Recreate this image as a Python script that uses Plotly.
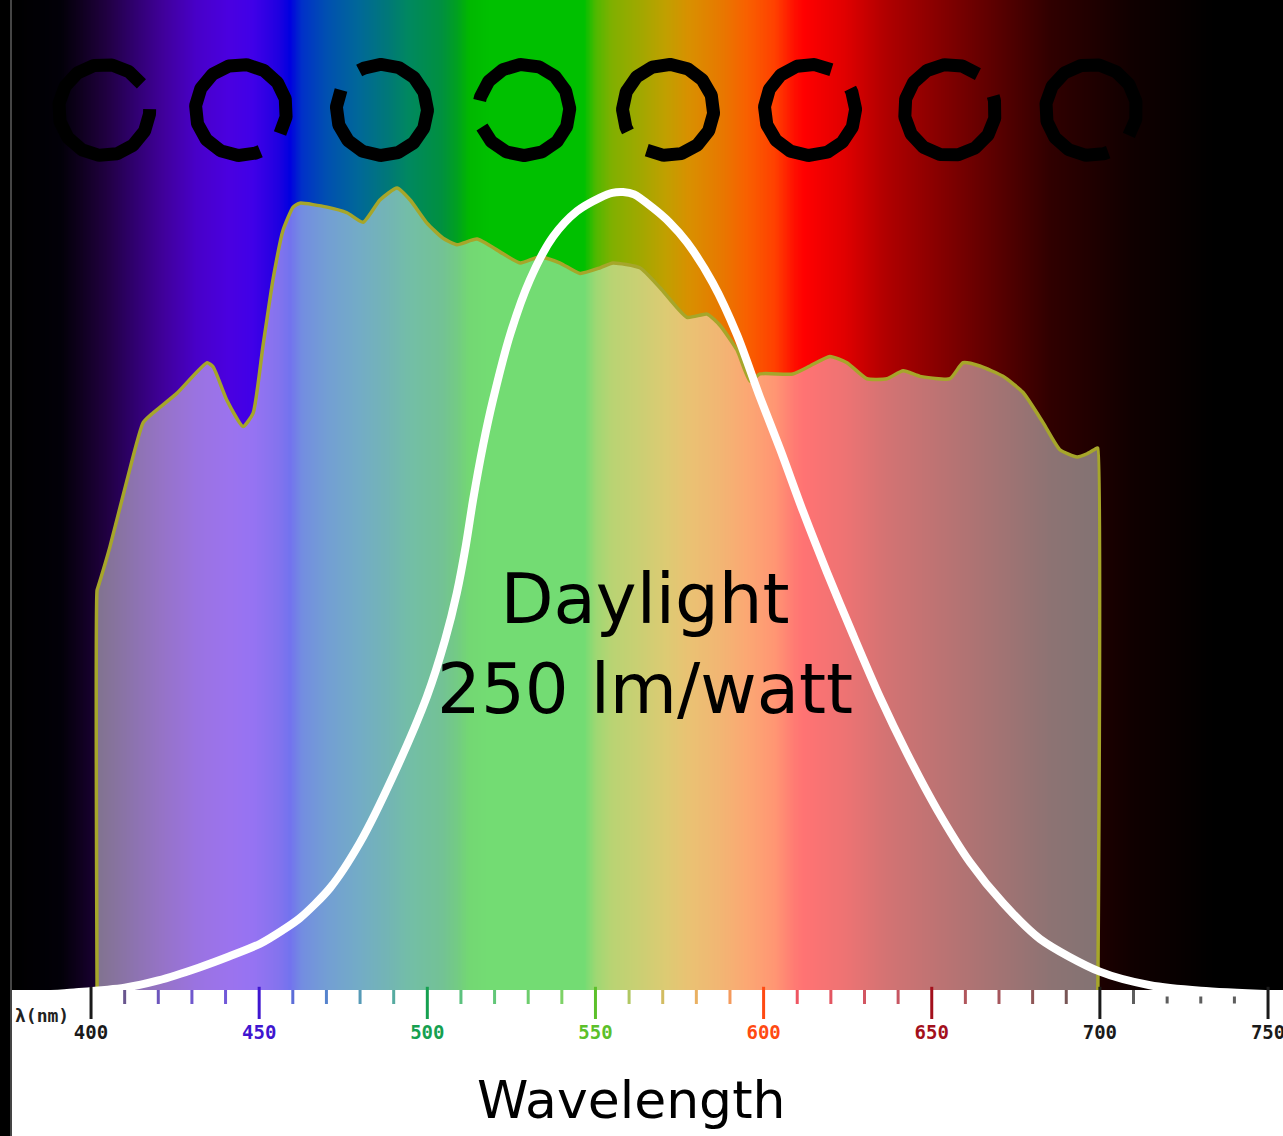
import numpy as np
import plotly.graph_objects as go

# ---------------- data ----------------
# background spectrum colour stops (wavelength nm -> colour)
spectrum_wl = [376.5, 391.1, 397.3, 404.5, 413.1, 421.4, 431.2, 441.0, 448.2, 455.6,
               459.2, 462.7, 470.2, 479.7, 488.3, 494.3, 504.1, 508.8, 512.4, 518.6,
               546.6, 550.2, 554.9, 563.2, 570.7, 577.8, 587.6, 595.1, 603.4, 609.0,
               612.0, 624.2, 636.4, 648.6, 660.8, 673.0, 685.2, 697.4, 709.5, 721.7,
               733.9, 754.45]
spectrum_col = ["#000000", "#020008", "#100020", "#200040", "#300070", "#40009a", "#4800c8",
                "#4a00e0", "#4000e8", "#2000e0", "#0000e0", "#0030c8", "#0050b0", "#006898",
                "#007878", "#008860", "#009040", "#00a020", "#00b800", "#00c000", "#00c000",
                "#50b800", "#80b000", "#a0a800", "#c0a000", "#d89000", "#e87800", "#f86000",
                "#ff4000", "#ff1000", "#ff0000", "#e00000", "#b00000", "#900000", "#700000",
                "#500000", "#300000", "#200000", "#100000", "#080000", "#000000", "#000000"]

# daylight spectrum (relative), filled area
daylight_wl = [401.8, 401.8, 402.1, 405.6, 410.7, 415.5, 418.4, 425.6, 434.5, 436.3, 440.4,
               445.2, 448.2, 451.1, 454.1, 457.1, 460.1, 462.1, 470.2, 476.1, 480.9, 485.9,
               491.0, 494.9, 499.9, 504.7, 508.8, 514.8, 521.6, 527.6, 533.5, 539.5, 545.4,
               551.4, 555.2, 563.2, 569.2, 577.2, 583.2, 587.0, 592.1, 596.0, 598.9, 608.7,
               613.8, 619.7, 624.8, 630.7, 636.7, 641.5, 646.5, 655.4, 659.3, 664.3, 671.2,
               677.1, 683.1, 688.1, 693.2, 696.2, 699.1, 699.4, 699.4]
daylight_val = [0.0, 0.501, 0.505, 0.555, 0.639, 0.711, 0.723, 0.748, 0.786, 0.781, 0.739,
                0.706, 0.723, 0.806, 0.890, 0.952, 0.981, 0.986, 0.981, 0.974, 0.962, 0.990,
                1.005, 0.990, 0.961, 0.942, 0.934, 0.941, 0.925, 0.911, 0.919, 0.911, 0.898,
                0.905, 0.911, 0.905, 0.880, 0.843, 0.847, 0.833, 0.802, 0.763, 0.772, 0.772,
                0.782, 0.794, 0.786, 0.766, 0.766, 0.776, 0.769, 0.766, 0.786, 0.782, 0.769,
                0.749, 0.711, 0.677, 0.668, 0.672, 0.679, 0.679, 0.0]

# eye sensitivity (luminosity) curve, relative
lum_wl = [376.5, 395, 410, 420, 432, 441, 450.3, 457, 462.1, 471.1, 480.0, 489.8, 499.9,
          505.3, 508.8, 511.5, 513.6, 516.6, 519.5, 524.6, 530.5, 537.4, 544.5, 551.4,
          555.0, 558.2, 561.5, 567.1, 572.0, 577.2, 584.9, 592.1, 598.9, 604.9, 611.7,
          618.9, 626.6, 634.6, 642.6, 651.6, 661.4, 671.2, 682.2, 700.0, 714.9, 730, 754.45]
lum_val = [-0.008, -0.003, 0.003, 0.012, 0.028, 0.042, 0.058, 0.075, 0.090, 0.128, 0.185,
           0.268, 0.368, 0.439, 0.498, 0.558, 0.614, 0.683, 0.739, 0.821, 0.890, 0.944,
           0.976, 0.993, 0.999, 1.0, 0.997, 0.980, 0.962, 0.937, 0.886, 0.821, 0.743,
           0.678, 0.600, 0.523, 0.445, 0.367, 0.297, 0.226, 0.160, 0.109, 0.064, 0.023,
           0.006, -0.001, -0.006]

# Landolt rings across the top: centre wavelength and gap direction (deg, CCW from east)
ring_wl = [403.9, 444.6, 486.5, 528.8, 571.6, 613.8, 655.4, 697.4]
ring_gap_deg = [18, -48, 137, 185, 225, 45, 35, -51]

# axis ticks
tick_major = [400, 450, 500, 550, 600, 650, 700, 750]
tick_major_col = ["#1a1a1a", "#3f16d0", "#16a050", "#5cc02a", "#ff4a12", "#a3101c",
                  "#1a1a1a", "#1a1a1a"]
tick_minor = [410, 420, 430, 440, 460, 470, 480, 490, 510, 520, 530, 540, 560, 570, 580,
              590, 610, 620, 630, 640, 660, 670, 680, 690, 710, 720, 730, 740]
tick_minor_col = ["#2a1060", "#3010a0", "#3412b8", "#3614c8", "#1830c8", "#1050b8",
                  "#107098", "#108878", "#18a848", "#20b040", "#30b830", "#48c028",
                  "#90b020", "#c0a020", "#e09020", "#f07018", "#e81020", "#d81020",
                  "#c01020", "#b01020", "#901018", "#801018", "#601010", "#401010",
                  "#1a1a1a", "#1a1a1a", "#1a1a1a", "#1a1a1a"]

# ---------------- geometry / style ----------------
W, H = 1283, 1136
ML = 12
SPEC_H = 990          # pixel height of the coloured spectrum band
PLOT_H = 1019         # plot area extends below the band to hold the tick marks
MB = H - PLOT_H
XMIN, XMAX = 376.5, 754.45
PLOT_W = W - ML
YMAX = 1.2406
px_nm = PLOT_W / (XMAX - XMIN)
px_unit = SPEC_H / YMAX
YMIN = -(PLOT_H - SPEC_H) / px_unit

fig = go.Figure()

# spectrum background (one row of cells, edges given)
xe = np.linspace(XMIN, XMAX, 1601)
xc = (xe[:-1] + xe[1:]) / 2
pos = [(w - XMIN) / (XMAX - XMIN) for w in spectrum_wl]
pos[0], pos[-1] = 0.0, 1.0
cscale = [[p, c] for p, c in zip(pos, spectrum_col)]
fig.add_trace(go.Heatmap(x=xe, y=[0, YMAX], z=[xc], colorscale=cscale,
                         zmin=XMIN, zmax=XMAX, showscale=False, zsmooth=False,
                         hoverinfo="skip"))

# rings
RING_Y = 1.1028
R_PX = 45.5
HALF_GAP = 17
for c, g in zip(ring_wl, ring_gap_deg):
    t = np.radians(np.linspace(g + HALF_GAP, g + 360 - HALF_GAP, 200))
    fig.add_trace(go.Scatter(x=c + R_PX * np.cos(t) / px_nm,
                             y=RING_Y + R_PX * np.sin(t) / px_unit,
                             mode="lines", line=dict(color="black", width=13),
                             hoverinfo="skip", showlegend=False))

# daylight spectrum area
fig.add_trace(go.Scatter(x=daylight_wl, y=daylight_val, mode="lines", fill="tozeroy",
                         fillcolor="rgba(255,255,255,0.45)",
                         line=dict(color="#a6a62a", width=3.5, shape="spline", smoothing=0.5),
                         hoverinfo="skip", showlegend=False))

# luminosity curve
fig.add_trace(go.Scatter(x=lum_wl, y=lum_val, mode="lines",
                         line=dict(color="white", width=8, shape="spline", smoothing=0.8),
                         hoverinfo="skip", showlegend=False))

# custom coloured tick marks just below the band
maj_y = -15 / px_unit
min_y = -7 / px_unit
fig.add_trace(go.Scatter(x=tick_major, y=[maj_y] * len(tick_major), mode="markers",
                         marker=dict(symbol="line-ns", size=26,
                                     line=dict(color=tick_major_col, width=3)),
                         hoverinfo="skip", showlegend=False))
min_sizes = [5 if w > 710 else 10 for w in tick_minor]
min_ys = [(-10 / px_unit) if w > 710 else min_y for w in tick_minor]
fig.add_trace(go.Scatter(x=tick_minor, y=min_ys, mode="markers",
                         marker=dict(symbol="line-ns", size=min_sizes,
                                     line=dict(color=tick_minor_col, width=3)),
                         hoverinfo="skip", showlegend=False))

ticktext = [f'<span style="color:{c}">{v}</span>' for v, c in zip(tick_major, tick_major_col)]

fig.update_layout(
    width=W, height=H,
    margin=dict(l=ML, r=0, t=0, b=MB, pad=0),
    paper_bgcolor="white", plot_bgcolor="white",
    showlegend=False,
    xaxis=dict(range=[XMIN, XMAX], showgrid=False, zeroline=False, showline=False,
               tickmode="array", tickvals=tick_major, ticktext=ticktext,
               ticks="", ticklabeloverflow="allow", automargin=False,
               tickfont=dict(family="DejaVu Sans Mono", size=19, weight="bold")),
    yaxis=dict(range=[YMIN, YMAX], visible=False),
    shapes=[
        dict(type="rect", xref="paper", yref="paper", x0=-ML / PLOT_W, x1=0,
             y0=-MB / PLOT_H, y1=1, fillcolor="black", line=dict(width=0), layer="above"),
        dict(type="line", xref="paper", yref="paper", x0=-1 / PLOT_W, x1=-1 / PLOT_W,
             y0=-MB / PLOT_H, y1=1, line=dict(color="#8a8a8a", width=1), layer="above"),
    ],
    annotations=[
        dict(x=564.7, y=0.434, xref="x", yref="y", text="Daylight<br>250 lm/watt",
             showarrow=False, font=dict(family="DejaVu Sans", size=69, color="black")),
        dict(x=(631 - ML) / PLOT_W, y=-(1100 - PLOT_H) / PLOT_H, xref="paper", yref="paper",
             xanchor="center", yanchor="middle",
             text="Wavelength", showarrow=False,
             font=dict(family="DejaVu Sans", size=52, color="black")),
        dict(x=1 / PLOT_W, y=(PLOT_H - 1015) / PLOT_H, xref="paper", yref="paper",
             xanchor="left", yanchor="middle",
             text="λ(nm)", showarrow=False,
             font=dict(family="DejaVu Sans Mono", size=18, color="#222", weight="bold")),
    ],
)

fig.write_html("out.html", config={"displayModeBar": False},
               post_script="document.body.style.margin='0px';document.body.style.padding='0px';")
